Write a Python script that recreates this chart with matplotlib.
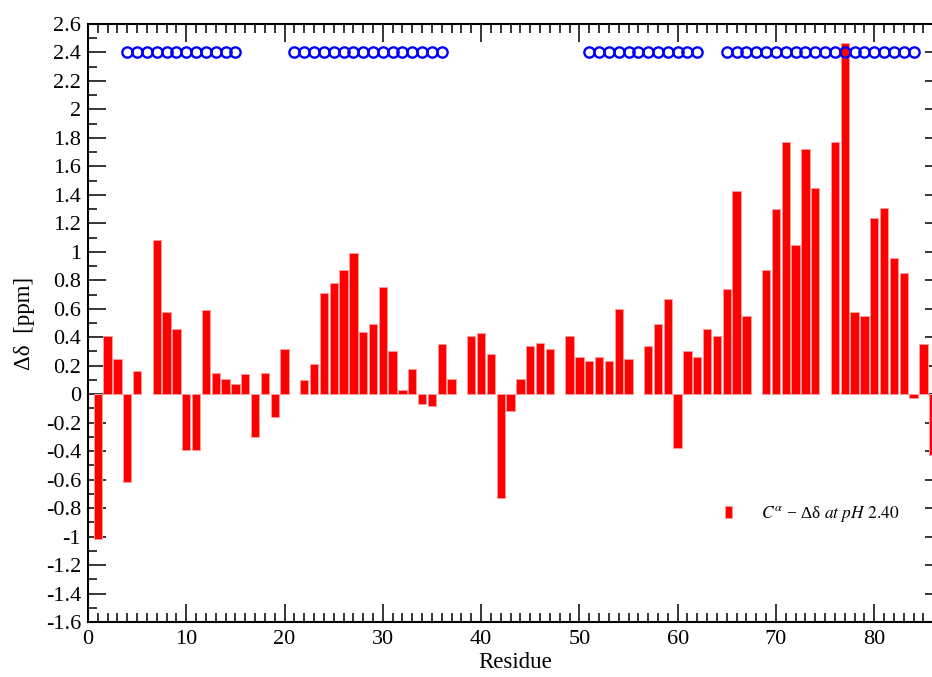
import matplotlib
matplotlib.use("Agg")
import matplotlib.pyplot as plt
import numpy as np
from matplotlib.patches import Patch
from matplotlib.ticker import MultipleLocator, FuncFormatter

plt.rcParams['font.family'] = ['Liberation Serif', 'DejaVu Serif']
plt.rcParams['mathtext.fontset'] = 'stix'

# residue number -> C-alpha chemical shift difference (ppm); missing residues skipped
residues = [1, 2, 3, 4, 5, 7, 8, 9, 10, 11, 12, 13, 14, 15, 16, 17, 18, 19, 20,
            22, 23, 24, 25, 26, 27, 28, 29, 30, 31, 32, 33, 34, 35, 36, 37,
            39, 40, 41, 42, 43, 44, 45, 46, 47,
            49, 50, 51, 52, 53, 54, 55,
            57, 58, 59, 60, 61, 62, 63, 64, 65, 66, 67,
            69, 70, 71, 72, 73, 74,
            76, 77, 78, 79, 80, 81, 82, 83, 84, 85, 86]
delta = [-1.02, 0.41, 0.25, -0.62, 0.16, 1.08, 0.58, 0.46, -0.39, -0.39, 0.59, 0.15, 0.11, 0.07, 0.14, -0.30, 0.15, -0.16, 0.32,
         0.10, 0.21, 0.71, 0.78, 0.87, 0.99, 0.44, 0.49, 0.75, 0.30, 0.03, 0.18, -0.07, -0.08, 0.35, 0.11,
         0.41, 0.43, 0.28, -0.73, -0.12, 0.11, 0.34, 0.36, 0.32,
         0.41, 0.26, 0.23, 0.26, 0.23, 0.60, 0.25,
         0.34, 0.49, 0.67, -0.38, 0.30, 0.26, 0.46, 0.41, 0.74, 1.43, 0.55,
         0.87, 1.30, 1.77, 1.05, 1.72, 1.45,
         1.77, 2.47, 0.58, 0.55, 1.24, 1.31, 0.96, 0.85, -0.03, 0.35, -0.43]

# secondary structure segments marked at the top
segments = [(4, 15), (21, 36), (51, 62), (65, 84)]
marker_level = 2.4

fig = plt.figure(figsize=(9.32, 6.77), dpi=100)
ax = fig.add_axes([88/932, 1 - 622/677, 855/932, 598/677])

ax.bar(residues, delta, width=0.85, color='#ff0000', edgecolor='#ff9a9a', linewidth=0.7, zorder=2)

for start, end in segments:
    xs = np.arange(start, end + 1)
    ax.plot(xs, [marker_level] * len(xs), linestyle='none', marker='o', markersize=7.4,
            markerfacecolor='none', markeredgecolor='#0000ff', markeredgewidth=1.7, zorder=3)

ax.set_xlim(0, 87)
ax.set_ylim(-1.6, 2.6)

ax.xaxis.set_major_locator(MultipleLocator(10))
ax.xaxis.set_minor_locator(MultipleLocator(1))
ax.yaxis.set_major_locator(MultipleLocator(0.2))
ax.yaxis.set_minor_locator(MultipleLocator(0.1))
ax.yaxis.set_major_formatter(FuncFormatter(lambda v, p: '%g' % round(v, 1)))
ax.xaxis.set_major_formatter(FuncFormatter(lambda v, p: '%d' % v if v <= 80 else ''))

ax.tick_params(which='both', direction='in', top=True, right=True, colors='black', labelsize=16)
ax.tick_params(which='major', length=13, width=1.1)
ax.tick_params(which='minor', length=6.5, width=1.1)
ax.tick_params(axis='x', pad=6)
ax.tick_params(axis='y', pad=5)
for s in ax.spines.values():
    s.set_linewidth(1.5)

ax.set_xlabel('Residue', fontsize=16.5, labelpad=2)
ax.set_ylabel('Δδ  [ppm]', fontsize=16.5, labelpad=8)

handle = Patch(facecolor='#ff0000', edgecolor='#ff9a9a', linewidth=0.7)
ax.legend(handles=[handle], labels=[r'$C^{\alpha}$ − Δδ $\mathit{at\ pH\ 2.40}$'],
          loc='center left', bbox_to_anchor=((709 - 88)/855, (622 - 514)/598),
          frameon=False, fontsize=12.5, handlelength=0.4, handleheight=0.75, handletextpad=1.7)

fig.savefig('out.png', dpi=100)
